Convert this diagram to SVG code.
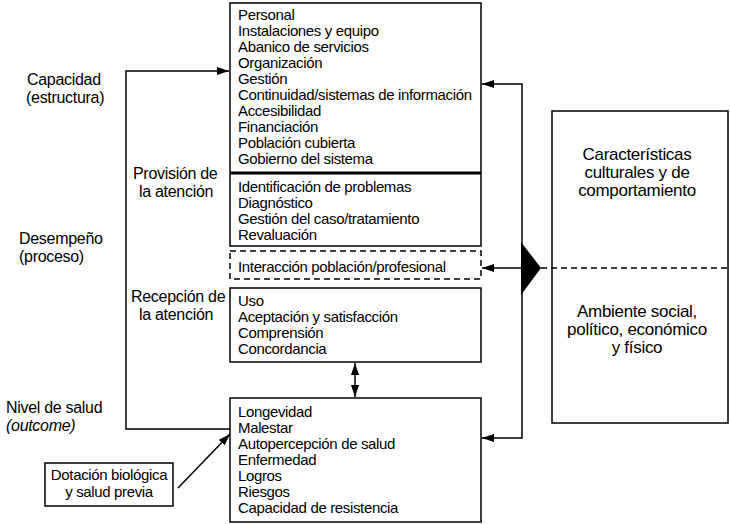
<svg xmlns="http://www.w3.org/2000/svg" width="730" height="524" viewBox="0 0 730 524">
<defs>
<marker id="ah" viewBox="0 0 12 8" refX="12" refY="4" markerWidth="12" markerHeight="8" markerUnits="userSpaceOnUse" orient="auto-start-reverse">
<path d="M0,0 L12,4 L0,8 Z" fill="#000"/>
</marker>
</defs>
<style>
text{font-family:"Liberation Sans",Arial,sans-serif;fill:#000}
.b{font-size:15px;letter-spacing:-0.35px}
.l{font-size:16px;letter-spacing:-0.3px}
.r{font-size:17px;letter-spacing:-0.3px;text-anchor:middle}
.box{fill:#fff;stroke:#000;stroke-width:1.5}
.dash{fill:#fff;stroke:#000;stroke-width:1.5;stroke-dasharray:6 4}
.c{fill:none;stroke:#000;stroke-width:1.5}
</style>
<rect width="730" height="524" fill="#fff"/>
<g id="connectors">
<polyline class="c" points="230,429 126,429 126,71 229,71" marker-end="url(#ah)"/>
<polyline class="c" points="482,84 522,84 522,438 482,438" marker-start="url(#ah)" marker-end="url(#ah)"/>
<line class="c" x1="522" y1="268" x2="482" y2="268" marker-end="url(#ah)"/>
<line class="c" x1="355" y1="363" x2="355" y2="397" marker-start="url(#ah)" marker-end="url(#ah)"/>
<line class="c" x1="178" y1="488" x2="230" y2="434" marker-end="url(#ah)"/>
<polygon points="521,242 541,268 521,295" fill="#000"/>
</g>
<g id="labels-left">
<text class="l" x="27" y="85">Capacidad</text>
<text class="l" x="26" y="103">(estructura)</text>
<text class="l" x="133" y="179">Provisión de</text>
<text class="l" x="139" y="197">la atención</text>
<text class="l" x="19" y="244">Desempeño</text>
<text class="l" x="19" y="262">(proceso)</text>
<text class="l" x="6" y="413">Nivel de salud</text>
<text class="l" x="6" y="431" font-style="italic">(outcome)</text>
<text class="l" x="131" y="302">Recepción de</text>
<text class="l" x="139" y="320">la atención</text>
</g>
<g id="capacidad">
<rect class="box" x="230" y="3" width="251" height="243"/>
<line x1="230" y1="173" x2="481" y2="173" stroke="#000" stroke-width="3"/>
<text class="b" x="238" y="20">Personal</text>
<text class="b" x="238" y="36">Instalaciones y equipo</text>
<text class="b" x="238" y="52">Abanico de servicios</text>
<text class="b" x="238" y="68">Organización</text>
<text class="b" x="238" y="84">Gestión</text>
<text class="b" x="238" y="100">Continuidad/sistemas de información</text>
<text class="b" x="238" y="116">Accesibilidad</text>
<text class="b" x="238" y="132">Financiación</text>
<text class="b" x="238" y="148">Población cubierta</text>
<text class="b" x="238" y="164">Gobierno del sistema</text>
</g>
<g id="provision">
<text class="b" x="238" y="192">Identificación de problemas</text>
<text class="b" x="238" y="208">Diagnóstico</text>
<text class="b" x="238" y="224">Gestión del caso/tratamiento</text>
<text class="b" x="238" y="240">Revaluación</text>
</g>
<g id="interaccion">
<rect class="dash" x="230" y="251" width="251" height="28"/>
<text class="b" x="238" y="272">Interacción población/profesional</text>
</g>
<g id="recepcion">
<rect class="box" x="230" y="288" width="251" height="74"/>
<text class="b" x="238" y="306">Uso</text>
<text class="b" x="238" y="322">Aceptación y satisfacción</text>
<text class="b" x="238" y="338">Comprensión</text>
<text class="b" x="238" y="354">Concordancia</text>
</g>
<g id="nivel">
<rect class="box" x="230" y="398" width="251" height="124"/>
<text class="b" x="238" y="417">Longevidad</text>
<text class="b" x="238" y="433">Malestar</text>
<text class="b" x="238" y="449">Autopercepción de salud</text>
<text class="b" x="238" y="465">Enfermedad</text>
<text class="b" x="238" y="481">Logros</text>
<text class="b" x="238" y="497">Riesgos</text>
<text class="b" x="238" y="513">Capacidad de resistencia</text>
</g>
<g id="dotacion">
<rect class="box" x="45" y="463" width="128" height="43"/>
<text class="b" x="109" y="480" text-anchor="middle" letter-spacing="-0.4">Dotación biológica</text>
<text class="b" x="109" y="497" text-anchor="middle" letter-spacing="-0.4">y salud previa</text>
</g>
<g id="entorno">
<rect class="box" x="552" y="111" width="176" height="312"/>
<line x1="541" y1="268" x2="728" y2="268" stroke="#000" stroke-width="1.5" stroke-dasharray="6 4"/>
<text class="r" x="637" y="160">Características</text>
<text class="r" x="637" y="178">culturales y de</text>
<text class="r" x="637" y="196">comportamiento</text>
<text class="r" x="637" y="317">Ambiente social,</text>
<text class="r" x="637" y="335">político, económico</text>
<text class="r" x="637" y="353">y físico</text>
</g>
</svg>
